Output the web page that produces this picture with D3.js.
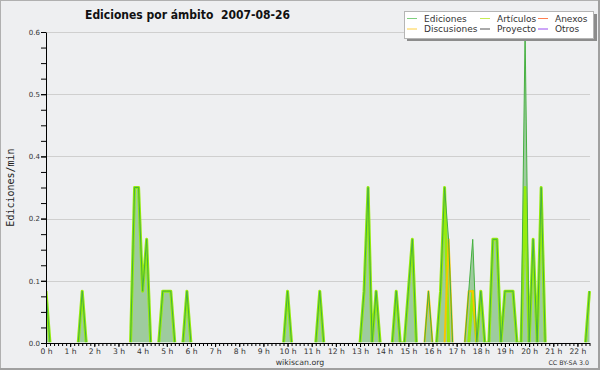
<!DOCTYPE html>
<html><head><meta charset="utf-8">
<script src="https://cdn.jsdelivr.net/npm/d3@7"></script>
<style>body{margin:0;background:#fff}svg{display:block}text{white-space:pre}</style>
</head><body>
<svg id="c" width="600" height="370"></svg>
<script>
const titleText = "Ediciones por ámbito  2007-08-26";
const yLabel = "Ediciones/min";
const footer = "wikiscan.org";
const license = "CC BY-SA 3.0";
const hours = d3.range(0, 23);
const hourLabels = hours.map(h => h + " h");
const yTickValues = [0, 0.12, 0.24, 0.36, 0.48, 0.6];

// 10-minute bins from 00:00 to 22:30, edits per minute (6 bins per hour)
const ediciones = [
  0.1,0,0,0,0,0,        // 0h
  0,0,0,0.1,0,0,        // 1h
  0,0,0,0,0,0,          // 2h
  0,0,0,0,0.3,0.3,      // 3h
  0.1,0.2,0,0,0,0.1,    // 4h
  0.1,0.1,0,0,0,0.1,    // 5h
  0,0,0,0,0,0,          // 6h
  0,0,0,0,0,0,          // 7h
  0,0,0,0,0,0,          // 8h
  0,0,0,0,0,0,          // 9h
  0.1,0,0,0,0,0,        // 10h
  0,0,0.1,0,0,0,        // 11h
  0,0,0,0,0,0,          // 12h
  0,0.1,0.3,0,0.1,0,    // 13h
  0,0,0,0.1,0,0,        // 14h
  0.1,0.2,0,0,0,0.1,    // 15h
  0,0,0.1,0.3,0.2,0,    // 16h
  0,0,0,0.1,0.2,0,      // 17h
  0.1,0,0,0.2,0.2,0,    // 18h
  0.1,0.1,0.1,0,0,0.6,  // 19h
  0,0.2,0,0.3,0,0,      // 20h
  0,0,0,0,0,0,          // 21h
  0,0,0,0.1             // 22h
];
const articulos = [
  0.1,0,0,0,0,0,
  0,0,0,0.1,0,0,
  0,0,0,0,0,0,
  0,0,0,0,0.3,0.3,
  0.1,0.2,0,0,0,0.1,
  0.1,0.1,0,0,0,0.1,
  0,0,0,0,0,0,
  0,0,0,0,0,0,
  0,0,0,0,0,0,
  0,0,0,0,0,0,
  0.1,0,0,0,0,0,
  0,0,0.1,0,0,0,
  0,0,0,0,0,0,
  0,0.1,0.3,0,0.1,0,
  0,0,0,0.1,0,0,
  0.1,0.2,0,0,0,0,
  0,0,0.1,0.3,0,0,
  0,0,0,0,0.1,0,
  0.1,0,0,0.2,0.2,0,
  0.1,0.1,0.1,0,0,0.3,
  0,0.2,0,0.3,0,0,
  0,0,0,0,0,0,
  0,0,0,0.1
];
const discusiones = [
  0,0,0,0,0,0, 0,0,0,0,0,0, 0,0,0,0,0,0, 0,0,0,0,0,0,
  0,0,0,0,0,0, 0,0,0,0,0,0, 0,0,0,0,0,0, 0,0,0,0,0,0,
  0,0,0,0,0,0, 0,0,0,0,0,0, 0,0,0,0,0,0, 0,0,0,0,0,0,
  0,0,0,0,0,0, 0,0,0,0,0,0, 0,0,0,0,0,0,
  0,0,0,0,0,0.1,        // 15h
  0,0,0,0,0.2,0,        // 16h
  0,0,0,0.1,0.1,0,      // 17h
  0,0,0,0,0,0, 0,0,0,0,0,0, 0,0,0,0,0,0, 0,0,0,0,0,0,
  0,0,0,0
];
const proyecto = ediciones.map((v, i) => (i === 119 ? 0.3 : 0));
const anexos = ediciones.map(() => 0);
const otros = ediciones.map(() => 0);

const legendItems = [
  {name: "Ediciones",   color: "#7fcf7f", col: 0, row: 0},
  {name: "Artículos",   color: "#c6ec55", col: 1, row: 0},
  {name: "Anexos",      color: "#ff7f50", col: 2, row: 0},
  {name: "Discusiones", color: "#ffd040", col: 0, row: 1},
  {name: "Proyecto",    color: "#555555", col: 1, row: 1},
  {name: "Otros",       color: "#9a4cf0", col: 2, row: 1}
];

const svg = d3.select("#c");
const W = 600, H = 370;
const X0 = 46, X1 = 589.5, Y0 = 343, Y1 = 32;

svg.append("rect").attr("x", 0).attr("y", 0).attr("width", W).attr("height", H).attr("fill", "#eeeff1");
svg.append("rect").attr("x", 0.5).attr("y", 0.5).attr("width", W - 2).attr("height", H - 2)
  .attr("fill", "none").attr("stroke", "#b0b0b0").attr("stroke-width", 1);
svg.append("line").attr("x1", W - 1).attr("x2", W - 1).attr("y1", 0).attr("y2", H).attr("stroke", "#a0a0a0").attr("stroke-width", 2);
svg.append("line").attr("x1", 0).attr("x2", W).attr("y1", H - 1).attr("y2", H - 1).attr("stroke", "#a0a0a0").attr("stroke-width", 2);

const nBins = ediciones.length;
const x = d3.scaleLinear().domain([0, nBins - 1]).range([X0, X1]);
const y = d3.scaleLinear().domain([0, 0.6]).range([Y0, Y1]);

// grid
svg.append("g").selectAll("line").data(yTickValues.filter(d => d > 0)).join("line")
  .attr("x1", X0).attr("x2", X1 + 0.5).attr("y1", d => Math.round(y(d)) + 0.5).attr("y2", d => Math.round(y(d)) + 0.5)
  .attr("stroke", "#cfcfcf").attr("stroke-width", 1);

const defs = svg.append("defs");
defs.append("clipPath").attr("id", "clip")
  .append("rect").attr("x", X0).attr("y", 0).attr("width", X1 - X0 + 2).attr("height", Y0 - 0.8);
defs.append("filter").attr("id", "soft").append("feGaussianBlur").attr("stdDeviation", 0.45);

const plot = svg.append("g").attr("clip-path", "url(#clip)");

const area = d3.area().x((d, i) => x(i)).y0(y(0)).y1(d => y(d));
plot.append("path").datum(ediciones).attr("d", area).attr("fill", "#9ecb9e");

function lineFor(arr) {
  return d3.line()
    .defined((d, i) => d > 0 || (arr[i - 1] || 0) > 0 || (arr[i + 1] || 0) > 0)
    .x((d, i) => x(i)).y(d => y(d))(arr);
}
const drawn = [
  {data: anexos, color: "#ff7f50", w: 1.2},
  {data: otros, color: "#9a4cf0", w: 1.2},
  {data: proyecto, color: "#555555", w: 1.2},
  {data: articulos, color: "#95ec0c", w: 3},
  {data: discusiones, color: "#f7c600", w: 2},
  {data: ediciones, color: "#45b040", w: 1}
];
const lines = plot.append("g").attr("filter", "url(#soft)");
drawn.forEach(s => {
  lines.append("path").attr("d", lineFor(s.data)).attr("fill", "none")
    .attr("stroke", s.color).attr("stroke-width", s.w).attr("stroke-linejoin", "round");
});

// axes
const tickFont = "'DejaVu Sans', sans-serif";
const yMinor = svg.append("g").attr("transform", `translate(${X0},0)`)
  .call(d3.axisLeft(y).tickValues(d3.range(0, 0.6001, 0.03)).tickSize(5).tickFormat(""));
yMinor.select(".domain").remove();
const yAx = svg.append("g").attr("transform", `translate(${X0},0)`)
  .call(d3.axisLeft(y).tickValues(yTickValues).tickSize(5).tickSizeOuter(0).tickPadding(1).tickFormat(d3.format(".1f")));
yAx.selectAll("text").attr("font-family", tickFont).attr("font-size", 7).attr("fill", "#333");
const xMinor = svg.append("g").attr("transform", `translate(0,${Y0})`)
  .call(d3.axisBottom(x).tickValues(d3.range(0, nBins)).tickSize(3).tickFormat(""));
xMinor.select(".domain").remove();
const xAx = svg.append("g").attr("transform", `translate(0,${Y0})`)
  .call(d3.axisBottom(x).tickValues(hours.map(h => h * 6)).tickSize(4).tickSizeOuter(0).tickPadding(1.5)
    .tickFormat((d, i) => hourLabels[i]));
xAx.selectAll("text").attr("font-family", tickFont).attr("font-size", 7.6).attr("fill", "#333");
svg.selectAll(".domain").attr("stroke", "#000");
svg.selectAll(".tick line").attr("stroke", "#000");

// title
svg.append("text").attr("x", 85).attr("y", 18.5).text(titleText)
  .attr("font-family", "'DejaVu Sans', sans-serif").attr("font-weight", "bold").attr("font-size", 12.5)
  .attr("textLength", 205).attr("lengthAdjust", "spacingAndGlyphs").attr("fill", "#111");

// y label
svg.append("text").attr("transform", "translate(14,187.5) rotate(-90)").attr("text-anchor", "middle")
  .text(yLabel).attr("font-family", "'DejaVu Sans Mono', monospace").attr("font-size", 10).attr("fill", "#222");

// footer
svg.append("text").attr("x", 300).attr("y", 364.5).attr("text-anchor", "middle").text(footer)
  .attr("font-family", tickFont).attr("font-size", 7.8).attr("fill", "#333");
svg.append("text").attr("x", 589).attr("y", 365).attr("text-anchor", "end").text(license)
  .attr("font-family", tickFont).attr("font-size", 6.3).attr("fill", "#333");

// legend
const lg = svg.append("g");
lg.append("rect").attr("x", 407).attr("y", 14).attr("width", 190).attr("height", 27).attr("fill", "#8c8c8c");
lg.append("rect").attr("x", 404.5).attr("y", 11.5).attr("width", 189).attr("height", 27)
  .attr("fill", "#ffffff").attr("stroke", "#b5b5b5");
const colX = [407, 480, 538];
const rowY = [18.5, 29];
legendItems.forEach(it => {
  const lx = colX[it.col], ly = rowY[it.row];
  lg.append("line").attr("x1", lx).attr("x2", lx + 10).attr("y1", ly).attr("y2", ly)
    .attr("stroke", it.color).attr("stroke-width", 1);
  lg.append("text").attr("x", lx + 17).attr("y", ly + 3.3).text(it.name)
    .attr("font-family", tickFont).attr("font-size", 9).attr("fill", "#333");
});
</script>
</body></html>
